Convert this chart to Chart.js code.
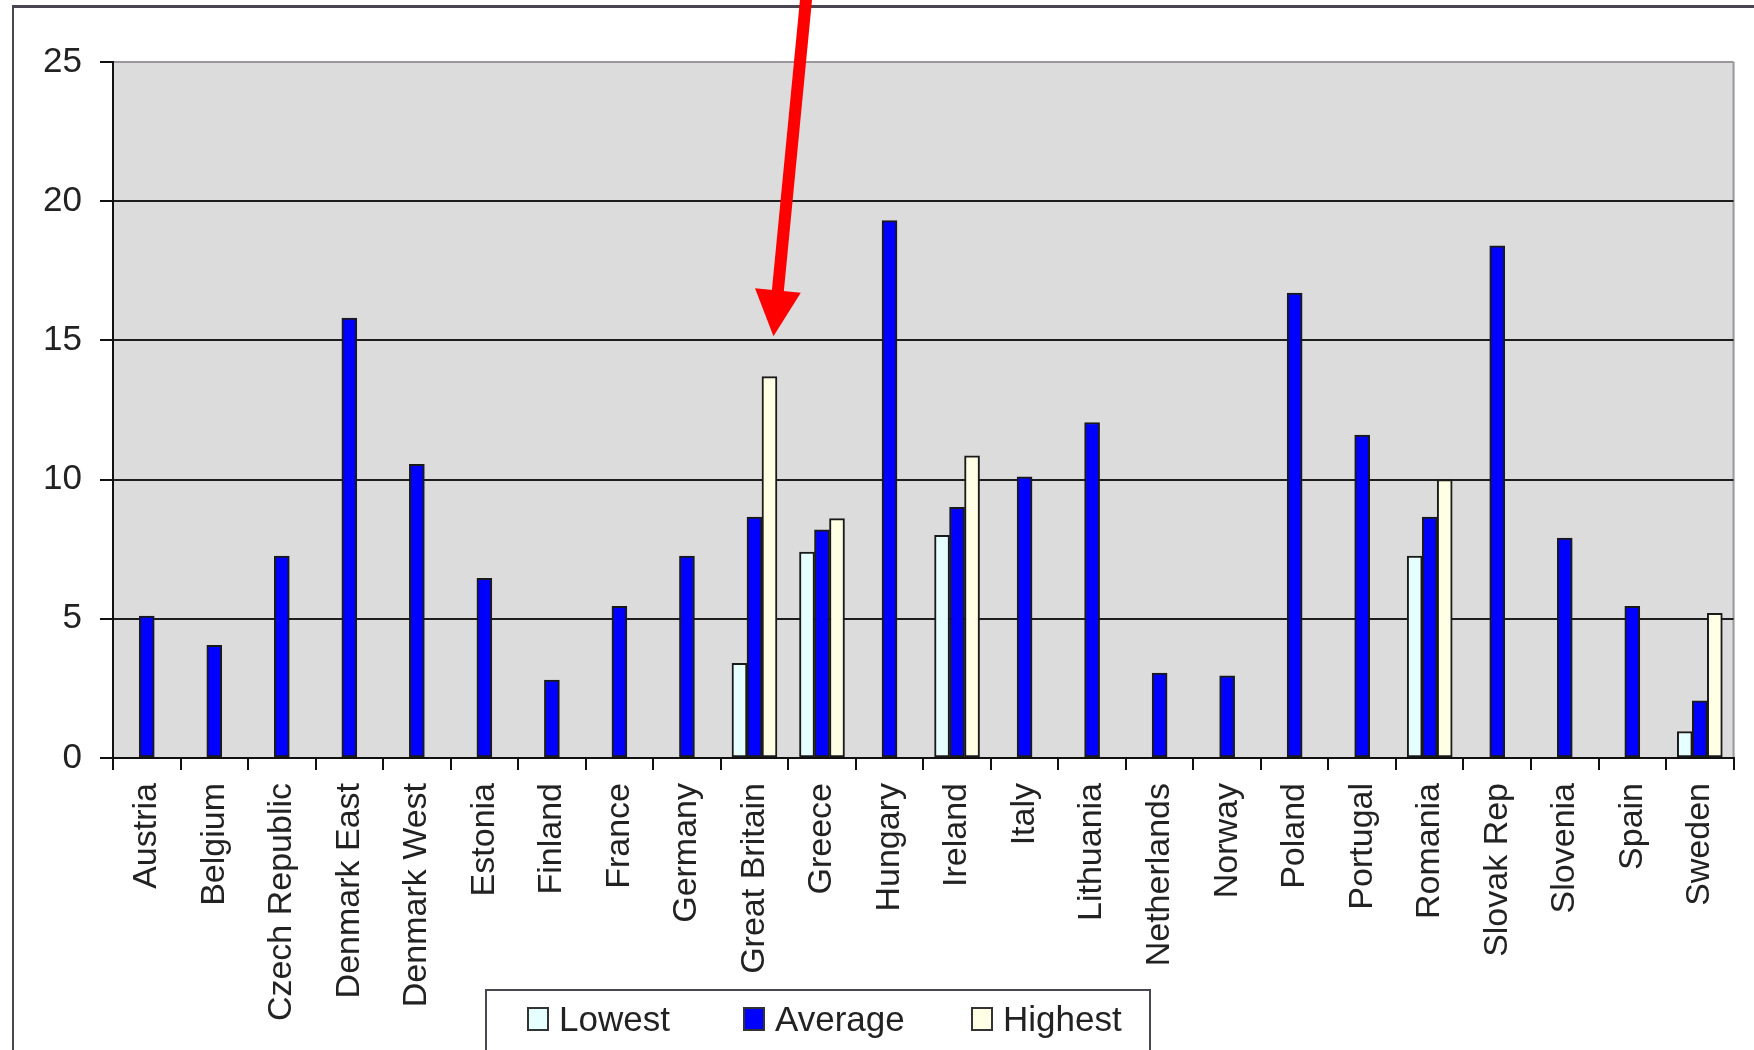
<!DOCTYPE html>
<html>
<head>
<meta charset="utf-8">
<script src="https://cdn.jsdelivr.net/npm/chart.js@4.4.1/dist/chart.umd.min.js"></script>
<style>
  html, body { margin: 0; padding: 0; background: #fff; overflow: hidden; }
  #wrap { position: relative; width: 1754px; height: 1050px; }
  #frame { position: absolute; left: 12px; top: 5px; width: 1800px; height: 1100px;
           border-left: 2px solid #4a4550; border-top: 3px solid #4a4550; }
  canvas { position: absolute; left: 0; top: 0; }
</style>
</head>
<body>
<div id="wrap">
  <div id="frame"></div>
  <canvas id="chart" width="1754" height="1050"></canvas>
</div>
<script>
// Countries / regions along the x axis
const categories = ['Austria', 'Belgium', 'Czech Republic', 'Denmark East', 'Denmark West',
  'Estonia', 'Finland', 'France', 'Germany', 'Great Britain', 'Greece', 'Hungary',
  'Ireland', 'Italy', 'Lithuania', 'Netherlands', 'Norway', 'Poland', 'Portugal',
  'Romania', 'Slovak Rep', 'Slovenia', 'Spain', 'Sweden'];

// Series values (null = no value for that country)
const lowest = [null, null, null, null, null, null, null, null, null, 3.4, 7.4, null,
  8.0, null, null, null, null, null, null, 7.25, null, null, null, 0.95];
const average = [5.1, 4.05, 7.25, 15.8, 10.55, 6.45, 2.8, 5.45, 7.25, 8.65, 8.2, 19.3,
  9.0, 10.1, 12.05, 3.05, 2.95, 16.7, 11.6, 8.65, 18.4, 7.9, 5.45, 2.05];
const highest = [null, null, null, null, null, null, null, null, null, 13.7, 8.6, null,
  10.85, null, null, null, null, null, null, 10.0, null, null, null, 5.2];

// Value axis
const yMin = 0, yMax = 25, yStep = 5;

// Arrow annotation: points at the "Highest" bar of Great Britain
const arrowCategory = 'Great Britain';
const arrowTipValue = 15.15;

const FONT = '"Liberation Sans", Arial, sans-serif';
const INK = '#222222';

// Gray plot background and right-hand frame line
const plotBackdrop = {
  id: 'plotBackdrop',
  beforeDraw(chart) {
    const { ctx, chartArea: a } = chart;
    ctx.save();
    ctx.fillStyle = '#dcdcdc';
    ctx.fillRect(a.left, a.top, a.right - a.left, a.bottom - a.top);
    ctx.strokeStyle = '#9a969c';
    ctx.lineWidth = 2;
    ctx.beginPath();
    ctx.moveTo(a.right, a.top);
    ctx.lineTo(a.right, a.bottom);
    ctx.stroke();
    ctx.restore();
  }
};

// Boxed legend below the category labels
const boxLegend = {
  id: 'boxLegend',
  afterDraw(chart) {
    const ctx = chart.ctx;
    const box = { left: 486, top: 990, right: 1150, height: 100 };
    const offsets = [42, 258, 486];
    ctx.save();
    ctx.fillStyle = '#fff';
    ctx.fillRect(box.left, box.top, box.right - box.left, box.height);
    ctx.strokeStyle = '#4a4550';
    ctx.lineWidth = 2;
    ctx.strokeRect(box.left, box.top, box.right - box.left, box.height);
    ctx.font = '35px ' + FONT;
    ctx.textBaseline = 'alphabetic';
    chart.data.datasets.forEach((ds, i) => {
      const x = box.left + offsets[i];
      ctx.fillStyle = ds.backgroundColor;
      ctx.fillRect(x, 1008, 20, 22);
      ctx.strokeStyle = '#333';
      ctx.lineWidth = 2;
      ctx.strokeRect(x, 1008, 20, 22);
      ctx.fillStyle = INK;
      ctx.fillText(ds.label, x + 31, 1031);
    });
    ctx.restore();
  }
};

// Red arrow pointing down at one bar
const pointerArrow = {
  id: 'pointerArrow',
  afterDraw(chart) {
    const ctx = chart.ctx;
    const idx = categories.indexOf(arrowCategory);
    const bar = chart.getDatasetMeta(2).data[idx];
    const tipX = bar.x + 4;
    const tipY = chart.scales.y.getPixelForValue(arrowTipValue);
    const startX = tipX + 33, startY = -5;
    const ang = Math.atan2(tipY - startY, tipX - startX);
    const headLen = 46, headHalf = 23;
    const bx = tipX - headLen * Math.cos(ang);
    const by = tipY - headLen * Math.sin(ang);
    ctx.save();
    ctx.strokeStyle = '#ff0000';
    ctx.fillStyle = '#ff0000';
    ctx.lineWidth = 12;
    ctx.beginPath();
    ctx.moveTo(startX, startY);
    ctx.lineTo(bx + 2 * Math.cos(ang), by + 2 * Math.sin(ang));
    ctx.stroke();
    ctx.beginPath();
    ctx.moveTo(tipX, tipY);
    ctx.lineTo(bx + headHalf * Math.sin(ang), by - headHalf * Math.cos(ang));
    ctx.lineTo(bx - headHalf * Math.sin(ang), by + headHalf * Math.cos(ang));
    ctx.closePath();
    ctx.fill();
    ctx.restore();
  }
};

const barStyle = { borderColor: '#1a1a1a', borderWidth: 2, borderSkipped: false };

new Chart(document.getElementById('chart'), {
  type: 'bar',
  data: {
    labels: categories,
    datasets: [
      { label: 'Lowest', data: lowest, backgroundColor: '#e6ffff', ...barStyle },
      { label: 'Average', data: average, backgroundColor: '#0000ff', ...barStyle },
      { label: 'Highest', data: highest, backgroundColor: '#ffffe6', ...barStyle }
    ]
  },
  options: {
    responsive: false,
    devicePixelRatio: 1,
    animation: false,
    layout: { padding: { top: 62, right: 19, left: 0, bottom: 0 } },
    datasets: { bar: { skipNull: true, barThickness: 15 } },
    plugins: {
      legend: { display: false },
      tooltip: { enabled: false }
    },
    scales: {
      x: {
        afterFit(scale) { scale.height = 292; },
        grid: {
          display: true, drawOnChartArea: false, drawTicks: true,
          tickLength: 12, color: '#111', lineWidth: 2, offset: true
        },
        border: { color: '#111', width: 2 },
        ticks: {
          autoSkip: false, maxRotation: 90, minRotation: 90, padding: 13,
          color: INK, font: { family: FONT, size: 34 }
        }
      },
      y: {
        min: yMin, max: yMax,
        afterFit(scale) { scale.width = 113; },
        grid: {
          color: (c) => (c.tick && c.tick.value === yMax ? '#9a969c' : '#1e1e1e'),
          lineWidth: 2, tickLength: 13, tickColor: '#111'
        },
        border: { color: '#111', width: 2 },
        ticks: {
          stepSize: yStep, padding: 18,
          color: INK, font: { family: FONT, size: 35 }
        }
      }
    }
  },
  plugins: [plotBackdrop, boxLegend, pointerArrow]
});
</script>
</body>
</html>
